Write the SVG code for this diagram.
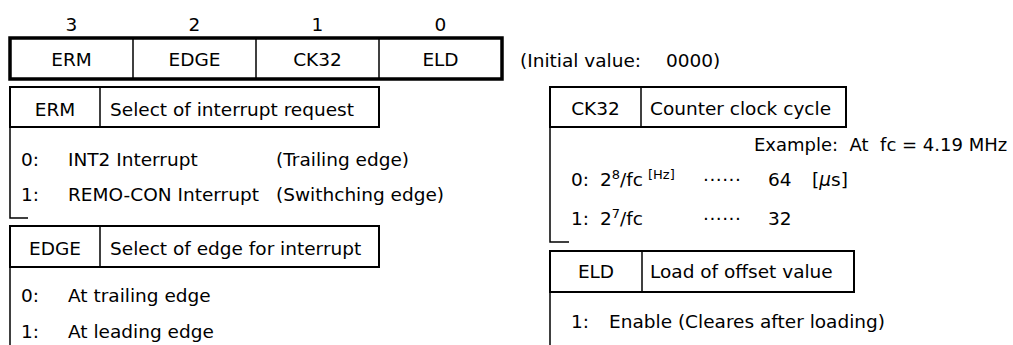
<svg xmlns="http://www.w3.org/2000/svg" width="1013" height="345" viewBox="0 0 1013 345">
<style>
text{font-family:"DejaVu Sans","Liberation Sans",sans-serif;font-size:18.5px;fill:#000}
.c{text-anchor:middle}
.sm{font-size:13px}
.reg{fill:none;stroke:#000;stroke-width:3.5}
.div{stroke:#000;stroke-width:1.5}
.hdr{fill:#fff;stroke:#000;stroke-width:2}
.br{fill:none;stroke:#000;stroke-width:1.5}
</style>
<rect width="1013" height="345" fill="#fff"/>
<g id="register">
<text class="c" x="71.5" y="31">3</text>
<text class="c" x="194.5" y="31">2</text>
<text class="c" x="317.5" y="31">1</text>
<text class="c" x="440.5" y="31">0</text>
<rect class="reg" x="10" y="38" width="492" height="41"/>
<line class="div" x1="133" y1="38" x2="133" y2="79"/>
<line class="div" x1="256" y1="38" x2="256" y2="79"/>
<line class="div" x1="379" y1="38" x2="379" y2="79"/>
<text class="c" x="71.5" y="66">ERM</text>
<text class="c" x="194.5" y="66">EDGE</text>
<text class="c" x="317.5" y="66">CK32</text>
<text class="c" x="440.5" y="66">ELD</text>
<text x="520" y="67">(Initial value:</text>
<text x="666" y="67">0000)</text>
</g>
<g id="erm">
<path class="br" d="M10 127 V218 H28"/>
<rect class="hdr" x="10" y="87" width="369" height="40"/>
<line class="div" x1="100" y1="87" x2="100" y2="127"/>
<text class="c" x="55" y="116">ERM</text>
<text x="110" y="116">Select of interrupt request</text>
<text x="21" y="166">0:</text>
<text x="68" y="166">INT2 Interrupt</text>
<text x="276" y="166">(Trailing edge)</text>
<text x="21" y="201">1:</text>
<text x="68" y="201">REMO-CON Interrupt</text>
<text x="276" y="201">(Swithching edge)</text>
</g>
<g id="edge">
<path class="br" d="M10 267 V345"/>
<rect class="hdr" x="10" y="226" width="369" height="41"/>
<line class="div" x1="100" y1="226" x2="100" y2="267"/>
<text class="c" x="55" y="255">EDGE</text>
<text x="110" y="255">Select of edge for interrupt</text>
<text x="21" y="302">0:</text>
<text x="68" y="302">At trailing edge</text>
<text x="21" y="338">1:</text>
<text x="68" y="338">At leading edge</text>
</g>
<g id="ck32">
<path class="br" d="M550 127 V242 H569"/>
<rect class="hdr" x="550" y="87" width="296" height="40"/>
<line class="div" x1="641" y1="87" x2="641" y2="127"/>
<text class="c" x="595.5" y="115">CK32</text>
<text x="650" y="115">Counter clock cycle</text>
<text x="754" y="151" style="font-size:18px;white-space:pre" xml:space="preserve">Example:  At  fc = 4.19 MHz</text>
<text x="571" y="186">0:</text>
<text x="600" y="186">2<tspan class="sm" dy="-7">8</tspan><tspan dy="7">/fc</tspan></text>
<text class="sm" x="648" y="179">[Hz]</text>
<text x="703" y="186" letter-spacing="0.5">······</text>
<text x="768" y="186">64</text>
<text x="812" y="186">[<tspan font-style="italic">μ</tspan>s]</text>
<text x="571" y="225">1:</text>
<text x="600" y="225">2<tspan class="sm" dy="-7">7</tspan><tspan dy="7">/fc</tspan></text>
<text x="703" y="225" letter-spacing="0.5">······</text>
<text x="768" y="225">32</text>
</g>
<g id="eld">
<path class="br" d="M550 292 V345"/>
<rect class="hdr" x="550" y="251" width="304" height="41"/>
<line class="div" x1="642" y1="251" x2="642" y2="292"/>
<text class="c" x="596" y="278">ELD</text>
<text x="650" y="278">Load of offset value</text>
<text x="571" y="328">1:</text>
<text x="609" y="328">Enable (Cleares after loading)</text>
</g>
</svg>
